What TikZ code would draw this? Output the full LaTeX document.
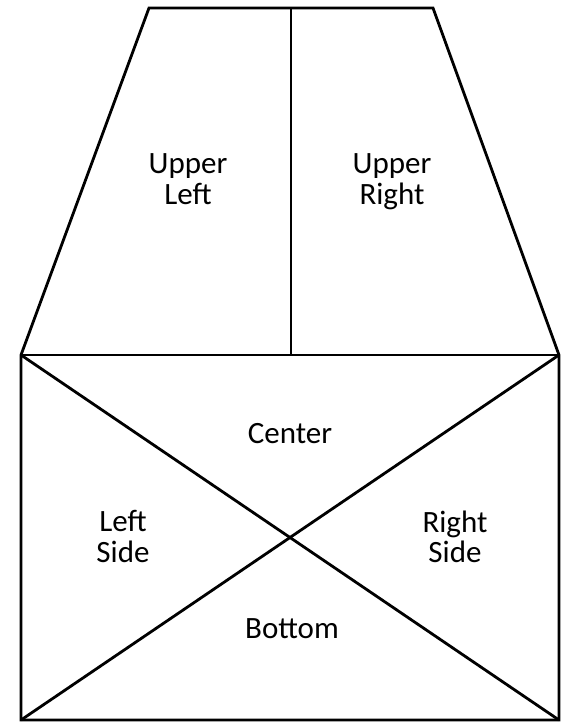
\documentclass[tikz,border=0pt]{standalone}
\usepackage{fontspec}
\setmainfont{Carlito}
\begin{document}
\begin{tikzpicture}[x=1bp,y=-1bp,
  edge/.style={line width=2.8bp,line join=miter},
  lbl/.style={align=center,font=\fontsize{31bp}{28bp}\selectfont,inner sep=0pt}]
\useasboundingbox (0,0) rectangle (561,722);
\coordinate (tl) at (149,8);
\coordinate (tr) at (433,8);
\coordinate (tm) at (291,8);
\coordinate (ml) at (21,355);
\coordinate (mr) at (559,355);
\coordinate (mm) at (291,355);
\coordinate (bl) at (21,720);
\coordinate (br) at (559,720);
\draw[edge] (ml) -- (tl) -- (tr) -- (mr) -- (br) -- (bl) -- cycle;
\draw[edge] (ml) -- (mr);
\draw[edge] (tm) -- (mm);
\draw[edge] (ml) -- (br);
\draw[edge] (mr) -- (bl);
\node[lbl] (ul) at (188,183.4) {Upper\strut\\Left\strut};
\node[lbl] (ur) at (392,183.4) {Upper\strut\\Right\strut};
\node[lbl] (c) at (290,437.4) {Center\strut};
\node[lbl] (ls) at (123,540.4) {Left\strut\\Side\strut};
\node[lbl] (rs) at (455,540.9) {Right\strut\\Side\strut};
\node[lbl] (b) at (292,632.4) {Bottom\strut};
\end{tikzpicture}
\end{document}
